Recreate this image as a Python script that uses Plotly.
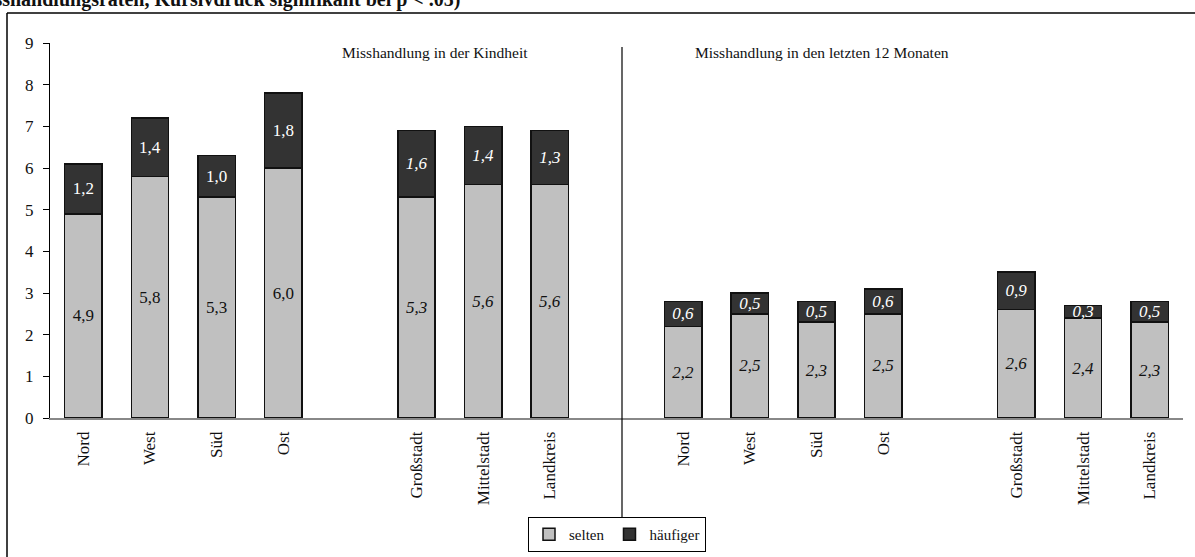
import plotly.graph_objects as go

# ── Data ──
categories = ["Nord", "West", "Süd", "Ost", "Großstadt", "Mittelstadt", "Landkreis"]

kindheit_selten = [4.9, 5.8, 5.3, 6.0, 5.3, 5.6, 5.6]
kindheit_haeufiger = [1.2, 1.4, 1.0, 1.8, 1.6, 1.4, 1.3]
kindheit_sig = [False, False, False, False, True, True, True]

monate_selten = [2.2, 2.5, 2.3, 2.5, 2.6, 2.4, 2.3]
monate_haeufiger = [0.6, 0.5, 0.5, 0.6, 0.9, 0.3, 0.5]
monate_sig = [True, True, True, True, True, True, True]

group_titles = ["Misshandlung in der Kindheit", "Misshandlung in den letzten 12 Monaten"]
caption = "Misshandlungsraten, Kursivdruck signifikant bei p < .05)"
y_ticks = list(range(0, 10))

# slot positions: 4 regions, gap, 3 community sizes, gap, then again
slots_left = [0, 1, 2, 3, 5, 6, 7]
slots_right = [s + 9 for s in slots_left]
xs = slots_left + slots_right

FONT = "Liberation Serif"
W, H = 1195, 557
L, R, T, B = 50, 12, 43, 139


def px(x):
    return (x - L) / (W - L - R)


def py(y):
    return (H - B - y) / (H - T - B)


def fmt(v, italic):
    s = f"{v:.1f}".replace(".", ",")
    return f"<i>{s}</i>" if italic else s


selten = kindheit_selten + monate_selten
haeufiger = kindheit_haeufiger + monate_haeufiger
sig = kindheit_sig + monate_sig

fig = go.Figure()

fig.add_trace(go.Bar(
    x=xs, y=selten, name="selten", width=0.56,
    marker=dict(color="#c0c0c0", line=dict(color="#111111", width=1.5)),
    text=[fmt(v, s) for v, s in zip(selten, sig)],
    textposition="inside", insidetextanchor="middle", textangle=0,
    constraintext="none",
    textfont=dict(family=FONT, size=17, color="#111111"),
))
fig.add_trace(go.Bar(
    x=xs, y=haeufiger, name="häufiger", width=0.56,
    marker=dict(color="#333333", line=dict(color="#111111", width=1.5)),
    text=[fmt(v, s) for v, s in zip(haeufiger, sig)],
    textposition="inside", insidetextanchor="middle", textangle=0,
    constraintext="none",
    textfont=dict(family=FONT, size=17, color="#ffffff"),
))

# ── Group titles ──
for x, title in zip([px(340), px(951)], group_titles):
    fig.add_annotation(x=x, y=py(52), xref="paper", yref="paper", text=title,
                       yanchor="middle", showarrow=False,
                       font=dict(family=FONT, size=15.5, color="#111111"))

# ── Cut-off caption at the very top ──
fig.add_annotation(x=px(462), y=py(13), xref="paper", yref="paper",
                   xanchor="right", yanchor="bottom",
                   text=f"<b>{caption}</b>",
                   showarrow=False, font=dict(family=FONT, size=20, color="#111111"))

# ── Frame and divider ──
fig.add_shape(type="line", xref="paper", yref="paper",
              x0=px(7), x1=px(1200), y0=py(13), y1=py(13), line=dict(color="#000", width=1.5))
fig.add_shape(type="line", xref="paper", yref="paper",
              x0=px(7), x1=px(7), y0=py(13), y1=py(560), line=dict(color="#000", width=1.5))
fig.add_shape(type="line", xref="paper", yref="paper",
              x0=px(622), x1=px(622), y0=py(47), y1=py(518), line=dict(color="#000", width=1.2))

fig.update_layout(
    barmode="stack",
    width=W, height=H,
    margin=dict(l=L, r=R, t=T, b=B, autoexpand=False),
    plot_bgcolor="white", paper_bgcolor="white",
    font=dict(family=FONT, size=15, color="#111111"),
    showlegend=True,
    legend=dict(
        orientation="h", x=px(617), xanchor="center", y=py(517), yanchor="top",
        bordercolor="#000", borderwidth=1, bgcolor="white",
        font=dict(family=FONT, size=15, color="#111111"),
        itemwidth=30, traceorder="normal",
    ),
    xaxis=dict(
        range=[-0.5, 16.5], tickvals=xs, ticktext=categories + categories,
        tickangle=-90, showgrid=False, zeroline=False, automargin=False,
        showline=True, linecolor="#888888", linewidth=1.5,
        ticks="outside", ticklen=5, tickcolor="rgba(0,0,0,0)",
        tickfont=dict(family=FONT, size=17, color="#111111"),
    ),
    yaxis=dict(
        range=[0, 9], tickvals=y_ticks, showgrid=False, zeroline=False, automargin=False,
        showline=True, linecolor="#000", linewidth=1.2,
        ticks="outside", ticklen=6, tickcolor="#000",
        ticklabelstandoff=6,
        tickfont=dict(family=FONT, size=17, color="#111111"),
    ),
)

fig.write_html("out.html", post_script="document.body.style.margin='0';",
               config={"displayModeBar": False})
